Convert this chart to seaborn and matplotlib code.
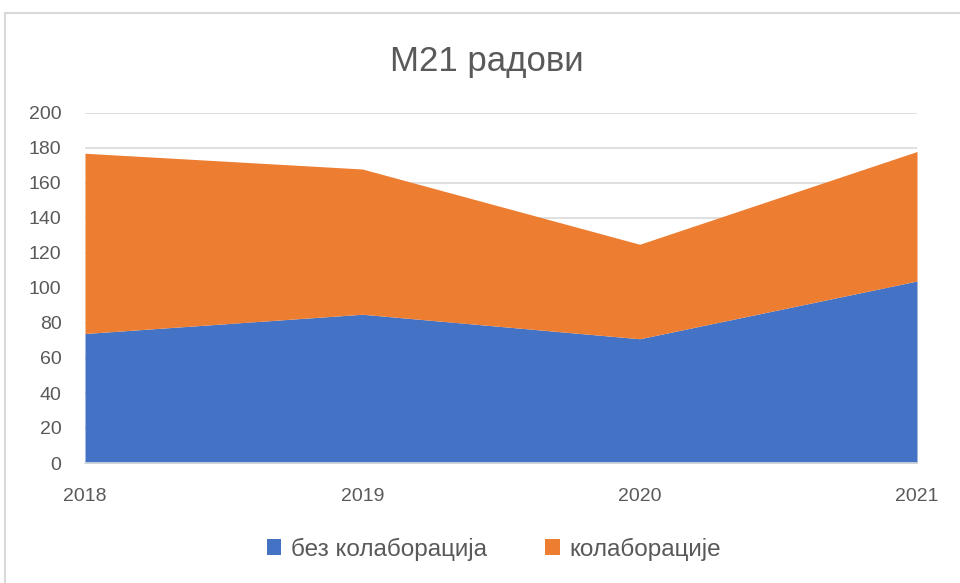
import matplotlib
matplotlib.use('Agg')
import matplotlib.pyplot as plt
import seaborn as sns
from matplotlib.patches import Rectangle

years = [2018, 2019, 2020, 2021]
bez_kolaboracija = [74, 85, 71, 104]
kolaboracije = [103, 83, 54, 74]
series_names = ['без колаборација', 'колаборације']
colors = ['#4472C4', '#ED7D31']

sns.set_theme(style='white')
plt.rcParams['font.family'] = ['Liberation Sans', 'DejaVu Sans']
text_gray = '#595959'
grid_gray = '#D9D9D9'

fig = plt.figure(figsize=(9.6, 5.83), dpi=100)
ax = fig.add_axes([85 / 960, 1 - 463 / 583, 832 / 960, 350 / 583])

# stacked area
ax.stackplot(years, bez_kolaboracija, kolaboracije, colors=colors,
             labels=series_names, linewidth=0, zorder=2)

ax.set_xlim(years[0], years[-1])
ax.set_ylim(0, 200)
ax.set_yticks(range(0, 201, 20))
ax.set_xticks(years)
ax.yaxis.grid(True, color=grid_gray, linewidth=1.2, zorder=0)
ax.set_axisbelow(True)

for side in ['top', 'right', 'left']:
    ax.spines[side].set_visible(False)
ax.spines['bottom'].set_color(grid_gray)
ax.spines['bottom'].set_linewidth(1.2)
ax.spines['bottom'].set_zorder(3)

ax.tick_params(axis='y', length=0, labelsize=14, labelcolor=text_gray, pad=17)
ax.tick_params(axis='x', length=6, width=1.2, color=grid_gray, direction='out',
               labelsize=14, labelcolor=text_gray, pad=12)
ax.set_xlabel('')
ax.set_ylabel('')

fig.text(487 / 960, 1 - 62 / 583, 'M21 радови', ha='center', va='center',
         fontsize=25, color=text_gray)

handles, labels = ax.get_legend_handles_labels()
fig.legend(handles, labels, loc='center', bbox_to_anchor=(494 / 960, 1 - 549 / 583),
           ncol=2, frameon=False, fontsize=17.5, labelcolor=text_gray,
           handlelength=0.6, handleheight=0.6, handletextpad=0.4, columnspacing=2.4)

# outer chart frame
fig.patches.append(Rectangle((5 / 960, -0.05), 1.1, 1 - 13 / 583 + 0.05,
                             transform=fig.transFigure, fill=False,
                             edgecolor=grid_gray, linewidth=1.5))

fig.savefig('out.png', dpi=100)
